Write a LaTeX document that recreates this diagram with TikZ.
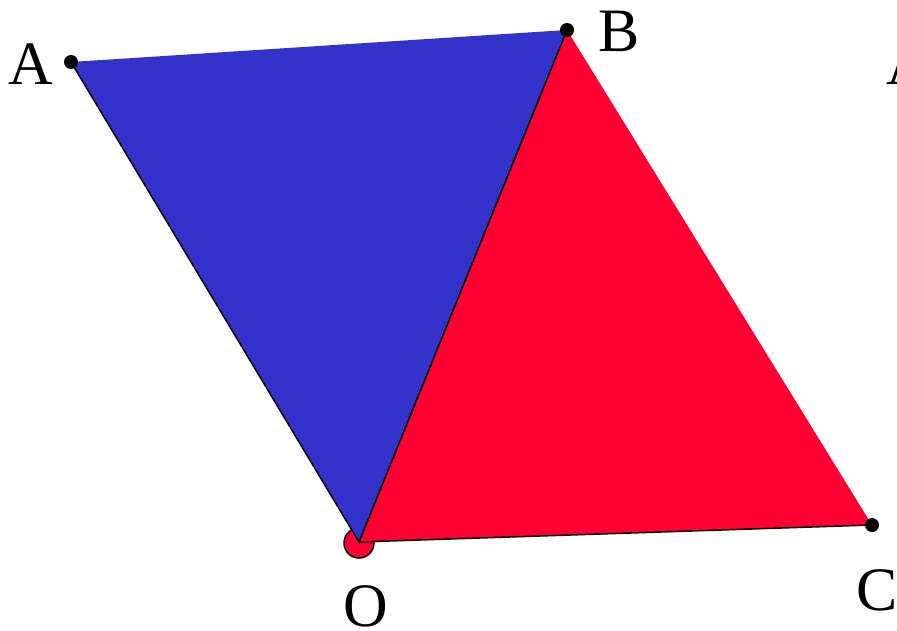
\documentclass[tikz,border=0pt]{standalone}
\usepackage{fontspec}
\setmainfont{Liberation Serif}
\usepackage{tikz}
\definecolor{triblue}{HTML}{3333CC}
\definecolor{trired}{HTML}{FF0033}

\begin{document}
\begin{tikzpicture}[
  x=1bp,y=-1bp,
  every node/.style={font=\fontsize{62}{62}\selectfont},
  vertex/.style={circle,fill=black,minimum size=14bp,inner sep=0pt},
  origin/.style={circle,draw=black,fill=trired,line width=1.5bp,minimum size=30bp,inner sep=0pt},
  edge/.style={line width=1.5bp,color=black}
]
\useasboundingbox (0,0) rectangle (897,631);
\clip (0,0) rectangle (897,631);
\node[origin] (Odot) at (359,543) {};
\coordinate (O) at (359,542);
\coordinate (A) at (71,62);
\coordinate (B) at (567,30);
\coordinate (C) at (872,525);
\fill[triblue] (A) -- (B) -- (O) -- cycle;
\fill[trired] (B) -- (C) -- (O) -- cycle;
\draw[edge] (A) -- (O) -- (B);
\draw[edge] (O) -- (C);
\node[vertex] (Adot) at (A) {};
\node[vertex] (Bdot) at (B) {};
\node[vertex] (Cdot) at (C) {};
\node (Alab) at (31,64) {A};
\node (Blab) at (619,31) {B};
\node (Olab) at (366,606) {O};
\node (Clab) at (877,590) {C};
\node (A2lab) at (909,64) {A};
\end{tikzpicture}
\end{document}
